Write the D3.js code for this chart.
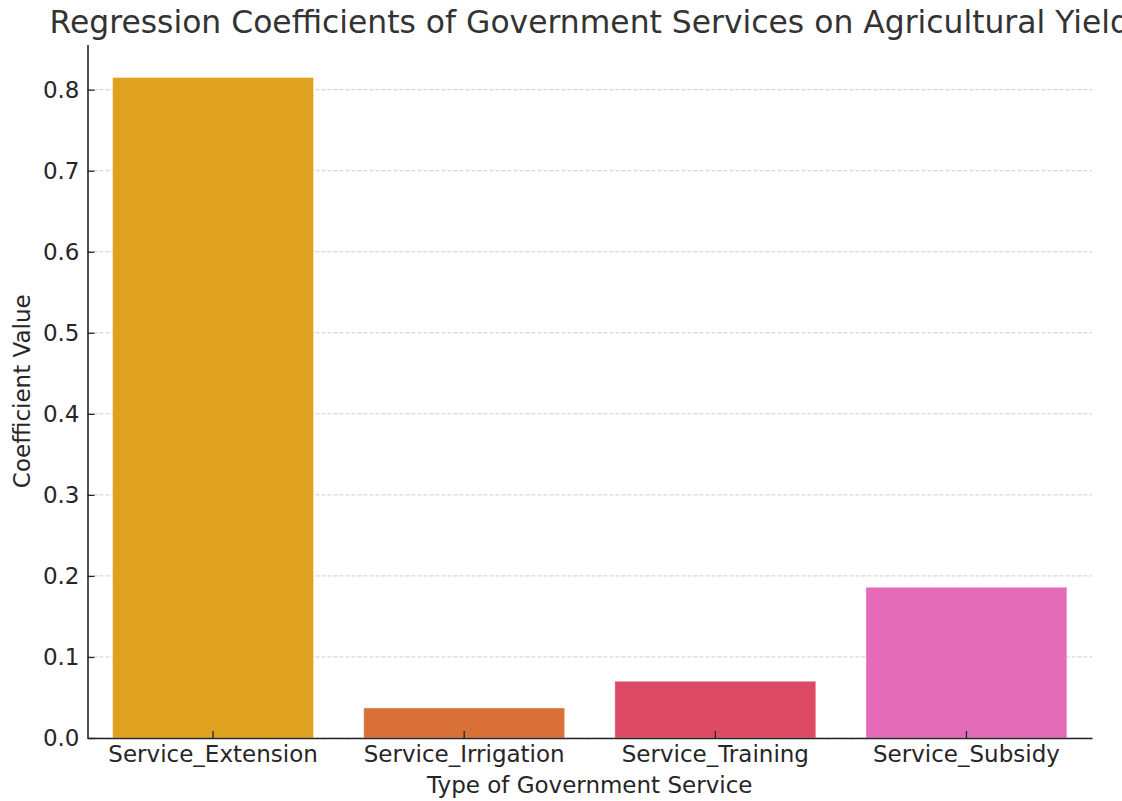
<!DOCTYPE html>
<html>
<head>
<meta charset="utf-8">
<script src="https://cdn.jsdelivr.net/npm/d3@7"></script>
<style>
  body { margin: 0; background: #fff; }
  svg, svg text { font-family: "DejaVu Sans", sans-serif; }
</style>
</head>
<body>
<svg id="chart" width="1122" height="801"></svg>
<script>
// données
const services = ["Service_Extension", "Service_Irrigation", "Service_Training", "Service_Subsidy"];
const coefficients = [0.815, 0.037, 0.070, 0.186];
const barColors = ["#dfa220", "#d97038", "#dc4a63", "#e36bb8"];
const yTicks = [0, 0.1, 0.2, 0.3, 0.4, 0.5, 0.6, 0.7, 0.8];

const svg = d3.select("#chart");
const margin = { top: 44.5, right: 30, bottom: 63, left: 87.5 };
const width = 1122 - margin.left - margin.right;
const height = 801 - margin.top - margin.bottom;

const g = svg.append("g").attr("transform", `translate(${margin.left},${margin.top})`);

const x = d3.scaleBand().domain(services).range([0, width]).paddingInner(0.2).paddingOuter(0.1);
// marge de 5 % comme matplotlib
const y = d3.scaleLinear().domain([0, d3.max(coefficients) * 1.05]).range([height, 0]);

// grille horizontale
g.append("g").selectAll("line")
  .data(yTicks)
  .join("line")
  .attr("x1", 0).attr("x2", width)
  .attr("y1", d => y(d)).attr("y2", d => y(d))
  .attr("stroke", "#cccccc")
  .attr("stroke-width", 1)
  .attr("stroke-dasharray", "4,2");

// barres
g.append("g").selectAll("rect")
  .data(services)
  .join("rect")
  .attr("x", d => x(d))
  .attr("width", x.bandwidth())
  .attr("y", (d, i) => y(coefficients[i]))
  .attr("height", (d, i) => height - y(coefficients[i]))
  .attr("fill", (d, i) => barColors[i])
  .attr("stroke", "rgba(255,255,255,0.35)")
  .attr("stroke-width", 1);

// axes avec ticks vers l'intérieur
const yAxis = g.append("g")
  .call(d3.axisLeft(y).tickValues(yTicks).tickFormat(d3.format(".1f")).tickSizeInner(-7).tickSizeOuter(0).tickPadding(8));
const xAxis = g.append("g")
  .attr("transform", `translate(0,${height})`)
  .call(d3.axisBottom(x).tickSizeInner(-7).tickSizeOuter(0).tickPadding(8));

[yAxis, xAxis].forEach(ax => {
  ax.attr("font-family", null).attr("font-size", null);
  ax.select(".domain").attr("stroke", "#262626").attr("stroke-width", 1.6);
  ax.selectAll(".tick line").attr("stroke", "#262626").attr("stroke-width", 1.3);
  ax.selectAll(".tick text").attr("fill", "#262626").style("font-size", "23px");
});

// titres
svg.append("text")
  .attr("x", margin.left + width / 2)
  .attr("y", 33)
  .attr("text-anchor", "middle")
  .attr("fill", "#333333")
  .style("font-size", "31.4px")
  .text("Regression Coefficients of Government Services on Agricultural Yield");

svg.append("text")
  .attr("x", margin.left + width / 2)
  .attr("y", 793)
  .attr("text-anchor", "middle")
  .attr("fill", "#262626")
  .style("font-size", "23px")
  .text("Type of Government Service");

svg.append("text")
  .attr("transform", `translate(30,${margin.top + height / 2}) rotate(-90)`)
  .attr("text-anchor", "middle")
  .attr("fill", "#262626")
  .style("font-size", "23px")
  .text("Coefficient Value");
</script>
</body>
</html>
